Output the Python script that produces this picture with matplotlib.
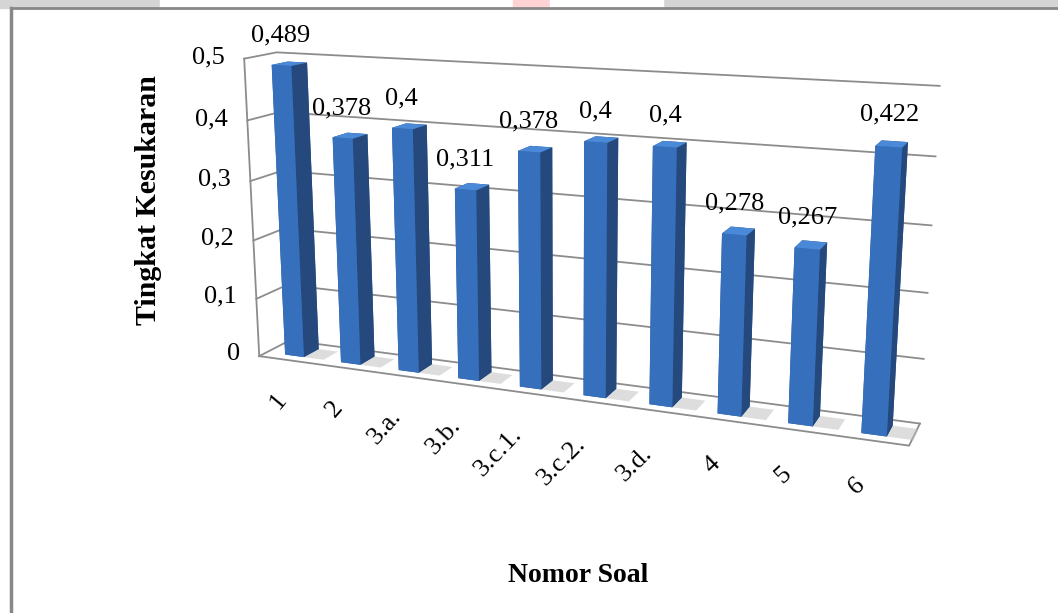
import numpy as np
import matplotlib.pyplot as plt
from matplotlib.patches import Rectangle
from matplotlib.lines import Line2D
from mpl_toolkits.mplot3d.art3d import Poly3DCollection

# data
soal = ["1", "2", "3.a.", "3.b.", "3.c.1.", "3.c.2.", "3.d.", "4", "5", "6"]
kesukaran = [0.489, 0.378, 0.4, 0.311, 0.378, 0.4, 0.4, 0.278, 0.267, 0.422]
sumbu_y = [0, 0.1, 0.2, 0.3, 0.4, 0.5]
label_y = ["0", "0,1", "0,2", "0,3", "0,4", "0,5"]

plt.rcParams['font.family'] = ['Liberation Serif', 'DejaVu Serif']

W, H = 1058, 613
fig = plt.figure(figsize=(W / 100, H / 100), dpi=100)

# page frame and top strip
fig.patches.append(Rectangle((0, 1 - 8 / H), 1, 8 / H, transform=fig.transFigure,
                             color='#d5d5d5', zorder=0))
for a, b, c in [(160, 513, 'white'), (513, 550, '#ffd3d3'), (550, 663, 'white')]:
    fig.patches.append(Rectangle((a / W, 1 - 8 / H), (b - a) / W, 8 / H,
                                 transform=fig.transFigure, color=c, zorder=0))
fig.add_artist(Line2D([11 / W, 1], [1 - 8 / H, 1 - 8 / H], color='#888888', lw=2))
fig.add_artist(Line2D([11 / W, 11 / W], [0, 1 - 8 / H], color='#888888', lw=2.5))

ax = fig.add_axes([0.1004, 0.198, 0.86, 0.82], projection='3d', computed_zorder=False)
ax.set_proj_type('persp', focal_length=0.55)
ax.view_init(elev=13.5, azim=-68)

n = len(soal)
D = 0.85
x0, x1 = -0.5, n - 0.5
ax.set_xlim(x0, x1)
ax.set_ylim(0, D)
ax.set_zlim(0, 0.5)
ax.set_box_aspect((709, 62, 328), zoom=1.5)
ax.set_axis_off()
ax.patch.set_visible(False)

abu = '#8c8c8c'
walls = [[(x0, D, 0), (x1, D, 0), (x1, D, 0.5), (x0, D, 0.5)],
         [(x0, 0, 0), (x0, D, 0), (x0, D, 0.5), (x0, 0, 0.5)]]
ax.add_collection3d(Poly3DCollection(walls, facecolor='white', edgecolor='none', zorder=0))
for v in sumbu_y:
    ax.plot([x0, x0, x1], [0, D, D], [v, v, v], color=abu, lw=1.3, zorder=1)
ax.plot([x0, x0], [0, 0], [0, 0.5], color=abu, lw=1.3, zorder=1)
ax.plot([x0, x1, x1], [0, 0, D], [0, 0, 0], color=abu, lw=1.3, zorder=1)

# bars
w = 0.34
bd = 0.5 * D
y0 = D / 2 - bd / 2
xs = np.arange(n)

# soft shadows on the floor
bayang = [[(i + w / 2, y0, 0), (i + w / 2 + 0.35, y0, 0),
           (i + w / 2 + 0.35, y0 + bd, 0), (i + w / 2, y0 + bd, 0)] for i in xs]
ax.add_collection3d(Poly3DCollection(bayang, facecolor='#bdbdbd', alpha=0.5,
                                     edgecolor='none', zorder=2))

warna = ['#2a5590', '#4a88d8', '#3670bd', '#2a5590', '#2a5590', '#25497c'] * n
bars = ax.bar3d(xs - w / 2, np.full(n, y0), np.zeros(n), w, bd, kesukaran,
                color=warna, shade=False)
bars.set_zorder(3)

for i, v in enumerate(kesukaran):
    ax.text(i, y0, v + 0.03, f"{v:g}".replace(".", ","), ha='center', va='bottom',
            fontsize=19, zorder=5)

for v, lab in zip(sumbu_y, label_y):
    ax.text(x0 - 0.35, 0, v, lab, ha='right', va='center', fontsize=19, zorder=5)

# category labels run at about 45 degrees on screen
for i, s in enumerate(soal):
    ax.text(i - 0.1, 0, -0.065, s, zdir=(1, 0, 0.125), ha='right', va='center',
            rotation_mode='anchor', fontsize=19, zorder=5)

# the zoomed box reaches past the axes frame
for art in ax.collections + ax.lines + ax.texts:
    art.set_clip_on(False)

fig.text(148 / W, 1 - 200 / H, "Tingkat Kesukaran", rotation=90, ha='center', va='center',
         fontsize=21.5, fontweight='bold')
fig.text(578 / W, 1 - 576 / H, "Nomor Soal", ha='center', va='center',
         fontsize=20, fontweight='bold')

fig.savefig('out.png', dpi=100)
